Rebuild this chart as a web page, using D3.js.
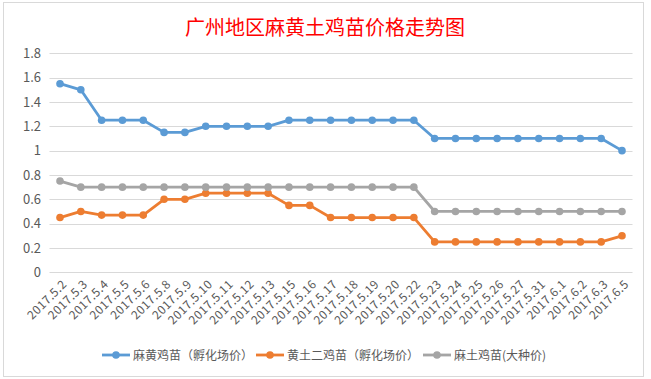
<!DOCTYPE html>
<html><head><meta charset="utf-8">
<script src="https://cdn.jsdelivr.net/npm/d3@7"></script>
<style>body{margin:0;background:#fff}svg{display:block}</style>
</head><body><svg id="c" width="651" height="379"></svg>
<script>
const categories = ["2017.5.2","2017.5.3","2017.5.4","2017.5.5","2017.5.6","2017.5.8","2017.5.9","2017.5.10","2017.5.11","2017.5.12","2017.5.13","2017.5.15","2017.5.16","2017.5.17","2017.5.18","2017.5.19","2017.5.20","2017.5.22","2017.5.23","2017.5.24","2017.5.25","2017.5.26","2017.5.27","2017.5.31","2017.6.1","2017.6.2","2017.6.3","2017.6.5"];
const mahuang = [1.55,1.5,1.25,1.25,1.25,1.15,1.15,1.2,1.2,1.2,1.2,1.25,1.25,1.25,1.25,1.25,1.25,1.25,1.1,1.1,1.1,1.1,1.1,1.1,1.1,1.1,1.1,1.0];
const huangtu = [0.45,0.5,0.47,0.47,0.47,0.6,0.6,0.65,0.65,0.65,0.65,0.55,0.55,0.45,0.45,0.45,0.45,0.45,0.25,0.25,0.25,0.25,0.25,0.25,0.25,0.25,0.25,0.3];
const matu = [0.75,0.7,0.7,0.7,0.7,0.7,0.7,0.7,0.7,0.7,0.7,0.7,0.7,0.7,0.7,0.7,0.7,0.7,0.5,0.5,0.5,0.5,0.5,0.5,0.5,0.5,0.5,0.5];
const seriesNames = ["麻黄鸡苗（孵化场价）","黄土二鸡苗（孵化场价）","麻土鸡苗(大种价)"];
const seriesColors = ["#5b9bd5","#ed7d31","#a5a5a5"];
const yTicks = [0,0.2,0.4,0.6,0.8,1,1.2,1.4,1.6,1.8];
const title = "广州地区麻黄土鸡苗价格走势图";

const svg = d3.select("#c");
const font = "'Noto Sans CJK SC', 'Noto Sans', sans-serif";

// frame
svg.append("rect").attr("x",3.5).attr("y",2.5).attr("width",640).attr("height",374)
  .attr("fill","#fff").attr("stroke","#d9d9d9");

const x = d3.scalePoint().domain(categories).range([60, 622]);
const y = d3.scaleLinear().domain([0,1.8]).range([272.3, 53.3]);

// gridlines
svg.append("g").selectAll("line").data(yTicks).join("line")
  .attr("x1",49.5).attr("x2",632.5)
  .attr("y1",d=>Math.round(y(d))+0.5).attr("y2",d=>Math.round(y(d))+0.5)
  .attr("stroke","#d9d9d9").attr("stroke-width",1);

// y axis labels
const yAxis = d3.axisLeft(y).tickValues(yTicks).tickSize(0).tickPadding(0).tickFormat(d3.format("~g"));
const gy = svg.append("g").attr("transform","translate(41,0)").call(yAxis);
gy.select(".domain").remove();
gy.selectAll("text").attr("fill","#595959").style("font-family",font).style("font-size","13px");

// x axis labels
const xAxis = d3.axisBottom(x).tickSize(0).tickPadding(0);
const gx = svg.append("g").attr("transform","translate(0,272)").call(xAxis);
gx.select(".domain").remove();
gx.selectAll("text")
  .attr("fill","#595959").style("font-family",font).style("font-size","12px")
  .style("letter-spacing","0.4px")
  .attr("text-anchor","end").attr("dy",null).attr("y",0)
  .attr("transform","translate(7,13) rotate(-45)");

// series
const data = [mahuang, huangtu, matu];
const line = d3.line().x((d,i)=>x(categories[i])).y(d=>y(d));
data.forEach((vals,si)=>{
  const g = svg.append("g");
  g.append("path").datum(vals).attr("d",line).attr("fill","none")
    .attr("stroke",seriesColors[si]).attr("stroke-width",2.8).attr("stroke-linejoin","round");
  g.selectAll("circle").data(vals).join("circle")
    .attr("cx",(d,i)=>x(categories[i])).attr("cy",d=>y(d)).attr("r",3.8)
    .attr("fill",seriesColors[si]);
});

// title
svg.append("text").attr("x",325).attr("y",35).attr("text-anchor","middle")
  .attr("fill","#ff0000").style("font-family",font).style("font-size","20px").text(title);

// legend
const legendX = [102, 256, 423];
const lg = svg.append("g");
seriesNames.forEach((n,i)=>{
  const gx0 = legendX[i];
  lg.append("line").attr("x1",gx0).attr("x2",gx0+28).attr("y1",355).attr("y2",355)
    .attr("stroke",seriesColors[i]).attr("stroke-width",2.8);
  lg.append("circle").attr("cx",gx0+14).attr("cy",355).attr("r",3.8).attr("fill",seriesColors[i]);
  lg.append("text").attr("x",gx0+31).attr("y",359.5).attr("fill","#595959")
    .style("font-family",font).style("font-size","12px").text(n);
});
</script>
</body></html>
